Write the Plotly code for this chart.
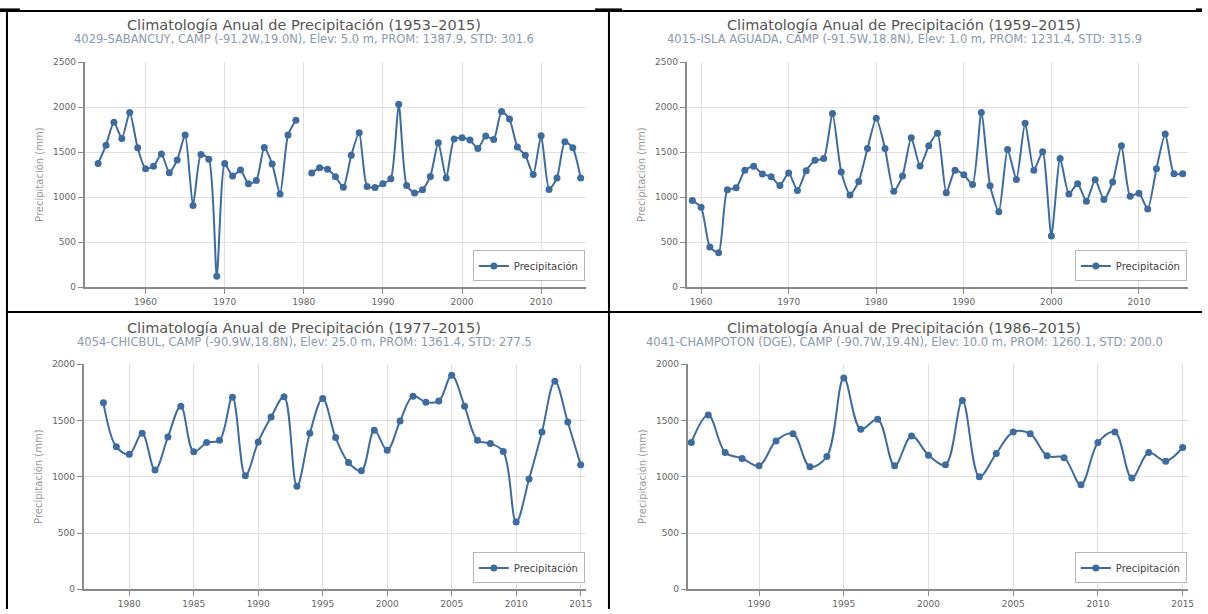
import plotly.graph_objects as go

W, H = 1208, 614

# ---------------- data ----------------
years_sabancuy = list(range(1954, 2016))
precip_sabancuy = [1373, 1578, 1832, 1653, 1940, 1548, 1317, 1343, 1481, 1272,
                   1414, 1690, 907, 1474, 1421, 123, 1373, 1235, 1302, 1149,
                   1186, 1552, 1369, 1037, 1690, 1854, None, 1268, 1328, 1310,
                   1227, 1112, 1466, 1716, 1119, 1108, 1149, 1205, 2033, 1130,
                   1048, 1082, 1231, 1604, 1212, 1645, 1660, 1634, 1541, 1679,
                   1641, 1951, 1869, 1556, 1466, 1253, 1683, 1086, 1212, 1615,
                   1548, 1212]

years_aguada = list(range(1959, 2016))
precip_aguada = [963, 888, 448, 384, 1082, 1104, 1299, 1343, 1257, 1228,
                 1131, 1269, 1075, 1295, 1410, 1429, 1929, 1280, 1026, 1175,
                 1541, 1877, 1541, 1067, 1235, 1660, 1347, 1571, 1709, 1049,
                 1299, 1250, 1142, 1940, 1127, 840, 1530, 1198, 1821, 1299,
                 1504, 571, 1429, 1037, 1149, 955, 1194, 974, 1168, 1571,
                 1011, 1045, 869, 1317, 1701, 1261, 1261]

years_chicbul = list(range(1978, 2016))
precip_chicbul = [1656, 1265, 1200, 1385, 1059, 1353, 1626, 1221, 1303, 1324,
                  1706, 1009, 1309, 1529, 1709, 915, 1385, 1694, 1347, 1126,
                  1053, 1412, 1235, 1494, 1715, 1662, 1671, 1900, 1626, 1324,
                  1294, 1224, 597, 979, 1397, 1847, 1485, 1106]

years_champoton = list(range(1986, 2016))
precip_champoton = [1303, 1547, 1215, 1162, 1097, 1318, 1382, 1088, 1179, 1876,
                    1421, 1509, 1097, 1362, 1191, 1106, 1676, 1000, 1206, 1397,
                    1382, 1185, 1168, 929, 1303, 1397, 988, 1215, 1138, 1259]

titles = ["Climatología Anual de Precipitación (1953–2015)",
          "Climatología Anual de Precipitación (1959–2015)",
          "Climatología Anual de Precipitación (1977–2015)",
          "Climatología Anual de Precipitación (1986–2015)"]
subtitles = ["4029-SABANCUY, CAMP (-91.2W,19.0N), Elev: 5.0 m, PROM: 1387.9, STD: 301.6",
             "4015-ISLA AGUADA, CAMP (-91.5W,18.8N), Elev: 1.0 m, PROM: 1231.4, STD: 315.9",
             "4054-CHICBUL, CAMP (-90.9W,18.8N), Elev: 25.0 m, PROM: 1361.4, STD: 277.5",
             "4041-CHAMPOTON (DGE), CAMP (-90.7W,19.4N), Elev: 10.0 m, PROM: 1260.1, STD: 200.0"]
series_name = "Precipitación"
y_title = "Precipitación (mm)"


def fx(X):
    return X / W


def fy(Y):
    return 1 - Y / H


# ---------------- layout geometry (page pixels) ----------------
panels = [
    dict(x=years_sabancuy, y=precip_sabancuy, px=(85, 589), py=(58, 287),
         xr=[1952.29, 2015.68], yr=[0, 2500], xt=list(range(1960, 2011, 10)),
         yt=list(range(0, 2501, 500)), tc=306, ty=20, sm=0.6),
    dict(x=years_aguada, y=precip_aguada, px=(690, 1194), py=(58, 287),
         xr=[1958.34, 2015.61], yr=[0, 2500], xt=list(range(1960, 2011, 10)),
         yt=list(range(0, 2501, 500)), tc=909, ty=20, sm=0.6),
    dict(x=years_chicbul, y=precip_chicbul, px=(84, 589), py=(365, 594),
         xr=[1976.46, 2015.42], yr=[0, 2000], xt=list(range(1980, 2016, 5)),
         yt=list(range(0, 2001, 500)), tc=306, ty=328, sm=1.0),
    dict(x=years_champoton, y=precip_champoton, px=(691, 1194), py=(365, 594),
         xr=[1985.78, 2015.32], yr=[0, 2000], xt=list(range(1990, 2016, 5)),
         yt=list(range(0, 2001, 500)), tc=909, ty=328, sm=1.0),
]

LINE = "#3e6c9e"
FONT = "DejaVu Sans"

fig = go.Figure()
annotations = []
layout = {}
for i, p in enumerate(panels):
    k = "" if i == 0 else str(i + 1)
    leg = "legend" if i == 0 else f"legend{i + 1}"
    fig.add_trace(go.Scatter(
        x=p["x"], y=p["y"], mode="lines+markers", name=series_name,
        line=dict(color=LINE, width=2, shape="spline", smoothing=p["sm"]),
        marker=dict(color=LINE, size=7),
        xaxis="x" + k, yaxis="y" + k, legend=leg, showlegend=True,
        connectgaps=False))
    x0, x1 = p["px"]
    y0, y1 = p["py"]
    layout["xaxis" + k] = dict(
        domain=[fx(x0), fx(x1)], anchor="y" + k, range=p["xr"],
        tickvals=p["xt"], showgrid=True, gridcolor="#e0e0e0", gridwidth=1,
        showline=True, linecolor="#8a8a8a", linewidth=1.5, ticks="outside",
        ticklen=5, tickcolor="#8a8a8a", tickfont=dict(size=9, color="#666", family=FONT),
        zeroline=False, fixedrange=True)
    layout["yaxis" + k] = dict(
        domain=[fy(y1), fy(y0)], anchor="x" + k, range=p["yr"],
        tickvals=p["yt"], showgrid=True, gridcolor="#e0e0e0", gridwidth=1,
        showline=True, linecolor="#8a8a8a", linewidth=1.5, ticks="outside",
        ticklen=5, tickcolor="#8a8a8a", tickfont=dict(size=9, color="#666", family=FONT),
        zeroline=False, title=dict(text=y_title, font=dict(size=10, color="#999", family=FONT),
                                   standoff=8), fixedrange=True)
    layout[leg] = dict(x=fx(x1) - 0.001, xanchor="right", y=fy(y1 - 6), yanchor="bottom",
                       bgcolor="white", bordercolor="#b5b5b5", borderwidth=1,
                       font=dict(size=10, color="#444", family=FONT),
                       itemwidth=30, tracegroupgap=0)
    annotations.append(dict(text=titles[i], x=fx(p["tc"]), y=fy(p["ty"]),
                            xref="paper", yref="paper", showarrow=False,
                            xanchor="center", yanchor="middle",
                            font=dict(size=14.5, color="#555", family=FONT)))
    annotations.append(dict(text=subtitles[i], x=fx(p["tc"]), y=fy(p["ty"] + 15),
                            xref="paper", yref="paper", showarrow=False,
                            xanchor="center", yanchor="middle",
                            font=dict(size=11.5, color="#8a9aab", family=FONT)))


def hline(xa, xb, ypx, w=2):
    return dict(type="line", xref="paper", yref="paper", x0=fx(xa), x1=fx(xb),
                y0=fy(ypx), y1=fy(ypx), line=dict(color="black", width=w))


def vline(xpx, ya, yb, w=2):
    return dict(type="line", xref="paper", yref="paper", x0=fx(xpx), x1=fx(xpx),
                y0=fy(ya), y1=fy(yb), line=dict(color="black", width=w))


shapes = [hline(0, 1208, 6), hline(6, 1208, 312), vline(7, 6, 614), vline(612, 6, 614),
          hline(0, 20, 5, 3), hline(598, 625, 5, 3), hline(1202, 1208, 5, 3)]

fig.update_layout(width=W, height=H, margin=dict(l=0, r=0, t=0, b=0),
                  paper_bgcolor="white", plot_bgcolor="white",
                  annotations=annotations, shapes=shapes,
                  font=dict(family=FONT), **layout)

fig.write_html("out.html", config={"displayModeBar": False},
               post_script="document.body.style.margin='0px';document.body.style.overflow='hidden';")
